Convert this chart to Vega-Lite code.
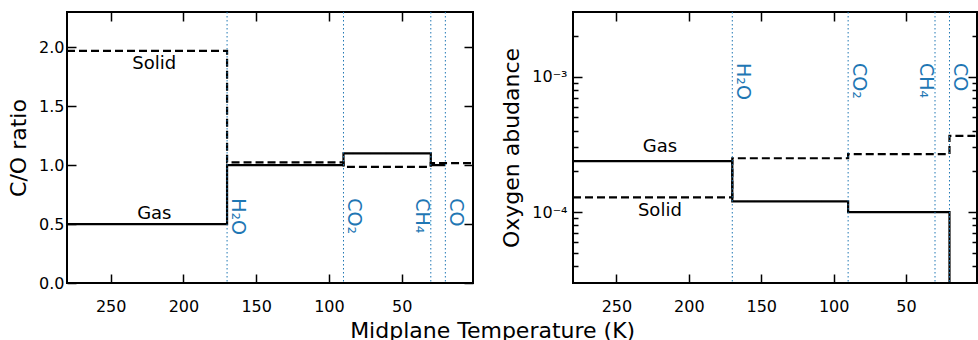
{
  "$schema": "https://vega.github.io/schema/vega-lite/v6.json",
  "padding": {"left": 6, "top": 10, "right": 0, "bottom": 0},
  "config": {
    "font": "DejaVu Sans",
    "view": {"stroke": "black", "strokeWidth": 2},
    "axis": {
      "domain": false, "grid": false,
      "tickColor": "black", "tickWidth": 1.5, "tickSize": -9,
      "labelFont": "DejaVu Sans", "labelFontSize": 16, "labelColor": "black",
      "titleFont": "DejaVu Sans", "titleFontSize": 22, "titleFontWeight": "normal", "titleColor": "black"
    },
    "concat": {"spacing": 24}
  },
  "title": {"text": "Midplane Temperature (K)", "orient": "bottom", "anchor": "middle", "fontSize": 22, "fontWeight": "normal", "font": "DejaVu Sans", "color": "black", "offset": 6},
  "datasets": {
    "co": [
      {"phase": "Gas", "T": 20, "v": 1.0},
      {"phase": "Gas", "T": 30, "v": 1.1},
      {"phase": "Gas", "T": 90, "v": 1.0},
      {"phase": "Gas", "T": 170, "v": 0.5},
      {"phase": "Gas", "T": 280, "v": 0.5},
      {"phase": "Solid", "T": 1, "v": 1.018},
      {"phase": "Solid", "T": 30, "v": 0.985},
      {"phase": "Solid", "T": 90, "v": 1.024},
      {"phase": "Solid", "T": 170, "v": 1.97},
      {"phase": "Solid", "T": 280, "v": 1.97}
    ],
    "oab": [
      {"phase": "Gas", "T": 1, "v": 1e-7},
      {"phase": "Gas", "T": 20, "v": 0.0001},
      {"phase": "Gas", "T": 90, "v": 0.00012},
      {"phase": "Gas", "T": 170, "v": 0.000238},
      {"phase": "Gas", "T": 280, "v": 0.000238},
      {"phase": "Solid", "T": 1, "v": 0.000366},
      {"phase": "Solid", "T": 20, "v": 0.000268},
      {"phase": "Solid", "T": 90, "v": 0.00025},
      {"phase": "Solid", "T": 170, "v": 0.0001285},
      {"phase": "Solid", "T": 280, "v": 0.0001285}
    ],
    "ice": [
      {"species": "H2O", "T": 170},
      {"species": "CO2", "T": 90},
      {"species": "CH4", "T": 30},
      {"species": "CO", "T": 20}
    ],
    "mol": [
      {"label": "H₂O", "T": 170, "side": "right"},
      {"label": "CO₂", "T": 90, "side": "right"},
      {"label": "CH₄", "T": 30, "side": "left"},
      {"label": "CO", "T": 20, "side": "right"}
    ],
    "phaseCO": [
      {"label": "Solid", "T": 220, "v": 1.855},
      {"label": "Gas", "T": 220, "v": 0.583}
    ],
    "phaseO": [
      {"label": "Gas", "T": 220, "v": 0.000304},
      {"label": "Solid", "T": 220, "v": 0.000102}
    ]
  },
  "hconcat": [
    {
      "width": 406, "height": 271,
      "layer": [
        {
          "data": {"name": "co"},
          "mark": {"type": "line", "interpolate": "step-before", "color": "black", "strokeWidth": 2.2, "clip": true},
          "encoding": {
            "x": {"field": "T", "type": "quantitative", "scale": {"domain": [280, 1], "nice": false, "zero": false},
                  "axis": {"orient": "bottom", "values": [50, 100, 150, 200, 250], "title": null, "labelPadding": 24}},
            "y": {"field": "v", "type": "quantitative", "scale": {"domain": [0, 2.3], "nice": false},
                  "axis": {"orient": "left", "values": [0, 0.5, 1, 1.5, 2], "format": ".1f", "title": "C/O ratio", "labelPadding": 12, "titlePadding": 8}},
            "strokeDash": {"field": "phase", "type": "nominal", "scale": {"domain": ["Gas", "Solid"], "range": [[1, 0], [8, 4]]}, "legend": null},
            "order": {"field": "T", "sort": "descending"}
          }
        },
        {
          "data": {"name": "ice"},
          "mark": {"type": "rule", "color": "#1f77b4", "strokeWidth": 1, "strokeDash": [1.5, 2.5]},
          "encoding": {
            "x": {"field": "T", "type": "quantitative", "axis": {"orient": "top", "values": [50, 100, 150, 200, 250], "labels": false, "title": null}}
          }
        },
        {
          "data": {"name": "phaseCO"},
          "mark": {"type": "text", "fontSize": 18, "color": "black"},
          "encoding": {
            "x": {"field": "T", "type": "quantitative", "axis": null},
            "y": {"field": "v", "type": "quantitative", "axis": {"orient": "right", "values": [0, 0.5, 1, 1.5, 2], "labels": false, "title": null}},
            "text": {"field": "label"}
          }
        },
        {
          "data": {"name": "mol"},
          "transform": [{"filter": "datum.side == 'right'"}],
          "mark": {"type": "text", "angle": 90, "align": "left", "baseline": "bottom", "dy": -1, "fontSize": 19, "color": "#1f77b4"},
          "encoding": {
            "x": {"field": "T", "type": "quantitative", "axis": null},
            "y": {"datum": 0.72, "type": "quantitative", "axis": null},
            "text": {"field": "label"}
          }
        },
        {
          "data": {"name": "mol"},
          "transform": [{"filter": "datum.side == 'left'"}],
          "mark": {"type": "text", "angle": 90, "align": "left", "baseline": "top", "dy": 0, "fontSize": 19, "color": "#1f77b4"},
          "encoding": {
            "x": {"field": "T", "type": "quantitative", "axis": null},
            "y": {"datum": 0.72, "type": "quantitative", "axis": null},
            "text": {"field": "label"}
          }
        }
      ],
      "resolve": {"axis": {"x": "independent", "y": "independent"}}
    },
    {
      "width": 404, "height": 271,
      "layer": [
        {
          "data": {"name": "oab"},
          "mark": {"type": "line", "interpolate": "step-before", "color": "black", "strokeWidth": 2.2, "clip": true},
          "encoding": {
            "x": {"field": "T", "type": "quantitative", "scale": {"domain": [280, 1], "nice": false, "zero": false},
                  "axis": {"orient": "bottom", "values": [50, 100, 150, 200, 250], "title": null, "labelPadding": 24}},
            "y": {"field": "v", "type": "quantitative", "scale": {"type": "log", "domain": [0.00003, 0.003], "nice": false},
                  "axis": {"orient": "left", "values": [0.0001, 0.001], "labelExpr": "datum.value < 0.0005 ? '10⁻⁴' : '10⁻³'", "title": "Oxygen abudance", "labelPadding": 15, "titlePadding": 8}},
            "strokeDash": {"field": "phase", "type": "nominal", "scale": {"domain": ["Gas", "Solid"], "range": [[1, 0], [8, 4]]}, "legend": null},
            "order": {"field": "T", "sort": "descending"}
          }
        },
        {
          "data": {"name": "ice"},
          "mark": {"type": "rule", "color": "#1f77b4", "strokeWidth": 1, "strokeDash": [1.5, 2.5]},
          "encoding": {
            "x": {"field": "T", "type": "quantitative", "axis": {"orient": "top", "values": [50, 100, 150, 200, 250], "labels": false, "title": null}}
          }
        },
        {
          "data": {"name": "phaseO"},
          "mark": {"type": "text", "fontSize": 18, "color": "black"},
          "encoding": {
            "x": {"field": "T", "type": "quantitative", "axis": null},
            "y": {"field": "v", "type": "quantitative", "axis": {"orient": "right", "values": [0.0001, 0.001], "labels": false, "title": null}},
            "text": {"field": "label"}
          }
        },
        {
          "data": {"name": "mol"},
          "transform": [{"filter": "datum.side == 'right'"}],
          "mark": {"type": "text", "angle": 90, "align": "left", "baseline": "bottom", "dy": -1, "fontSize": 19, "color": "#1f77b4"},
          "encoding": {
            "x": {"field": "T", "type": "quantitative", "axis": null},
            "y": {"datum": 0.00126, "type": "quantitative", "axis": {"orient": "left", "values": [0.00004, 0.00005, 0.00006, 0.00007, 0.00008, 0.00009, 0.0002, 0.0003, 0.0004, 0.0005, 0.0006, 0.0007, 0.0008, 0.0009, 0.002], "labels": false, "title": null, "tickSize": -5}},
            "text": {"field": "label"}
          }
        },
        {
          "data": {"name": "mol"},
          "transform": [{"filter": "datum.side == 'left'"}],
          "mark": {"type": "text", "angle": 90, "align": "left", "baseline": "top", "dy": 0, "fontSize": 19, "color": "#1f77b4"},
          "encoding": {
            "x": {"field": "T", "type": "quantitative", "axis": null},
            "y": {"datum": 0.00126, "type": "quantitative", "axis": {"orient": "right", "values": [0.00004, 0.00005, 0.00006, 0.00007, 0.00008, 0.00009, 0.0002, 0.0003, 0.0004, 0.0005, 0.0006, 0.0007, 0.0008, 0.0009, 0.002], "labels": false, "title": null, "tickSize": -5}},
            "text": {"field": "label"}
          }
        }
      ],
      "resolve": {"axis": {"x": "independent", "y": "independent"}}
    }
  ]
}
